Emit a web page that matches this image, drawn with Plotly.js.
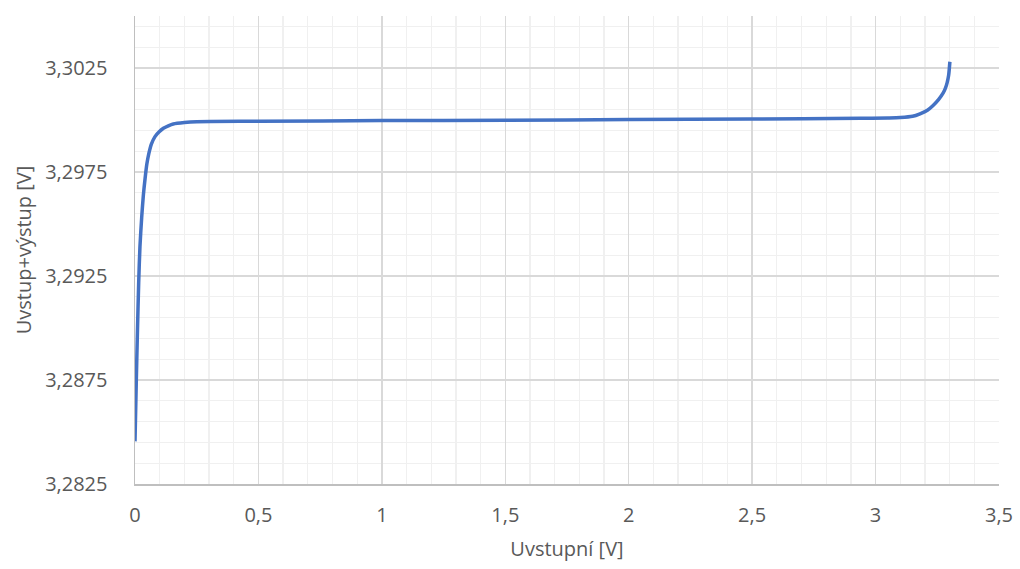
<!DOCTYPE html>
<html>
<head>
<meta charset="utf-8">
<script src="https://cdn.plot.ly/plotly-3.0.1.min.js"></script>
<style>html,body{margin:0;padding:0;background:#fff;}#chart{width:1020px;height:569px;}</style>
</head>
<body>
<div id="chart"></div>
<script>
const uIn = [0, 0.005, 0.010, 0.015, 0.020, 0.027, 0.034, 0.041, 0.048, 0.056, 0.066, 0.081, 0.098, 0.115, 0.135, 0.155, 0.200, 0.250, 0.5, 1.0, 1.5, 2.0, 2.5, 2.94, 3.05, 3.10, 3.15, 3.18, 3.21, 3.233, 3.255, 3.274, 3.283, 3.290, 3.296, 3.301];
const uSum = [3.28455, 3.2873, 3.2899, 3.2922, 3.2939, 3.2953, 3.2964, 3.2972, 3.29788, 3.29838, 3.29883, 3.2992, 3.29943, 3.2996, 3.29972, 3.29981, 3.29988, 3.29992, 3.29994, 3.29997, 3.29999, 3.30002, 3.30005, 3.30008, 3.3001, 3.30012, 3.30018, 3.3003, 3.30047, 3.3007, 3.30098, 3.3013, 3.30153, 3.3018, 3.30215, 3.3028];
const xTitle = "Uvstupní [V]";
const yTitle = "Uvstup+výstup [V]";

const font = {family: "'Open Sans', sans-serif", size: 20, color: "#595959"};

Plotly.newPlot("chart", [{
  x: uIn, y: uSum, type: "scatter", mode: "lines",
  line: {color: "#4472C4", width: 3.5, shape: "spline", smoothing: 0.7},
  hoverinfo: "skip"
}], {
  width: 1020, height: 569,
  margin: {l: 135, r: 21, t: 16, b: 85},
  paper_bgcolor: "#fff", plot_bgcolor: "#fff",
  separators: ", ",
  showlegend: false,
  font: font,
  xaxis: {
    range: [0, 3.5], dtick: 0.5, tick0: 0,
    showgrid: true, gridcolor: "#d9d9d9", gridwidth: 1.3,
    minor: {dtick: 0.1, tick0: 0, showgrid: true, gridcolor: "#f0f0f0", gridwidth: 1.3},
    showline: true, linecolor: "#bfbfbf", linewidth: 1.5,
    zeroline: false, ticks: "", ticklabelstandoff: 12,
    tickfont: font,
    title: {text: xTitle, font: font, standoff: 15}
  },
  yaxis: {
    range: [3.2825, 3.305], dtick: 0.005, tick0: 3.2825, tickformat: ".4f",
    showgrid: true, gridcolor: "#d9d9d9", gridwidth: 1.3,
    minor: {dtick: 0.001, tick0: 3.2825, showgrid: true, gridcolor: "#f0f0f0", gridwidth: 1.3},
    showline: true, linecolor: "#bfbfbf", linewidth: 1.5,
    zeroline: false, ticks: "", ticklabelstandoff: 22,
    tickfont: font,
    title: {text: yTitle, font: font, standoff: 8}
  }
}, {staticPlot: true, displayModeBar: false});
</script>
</body>
</html>
